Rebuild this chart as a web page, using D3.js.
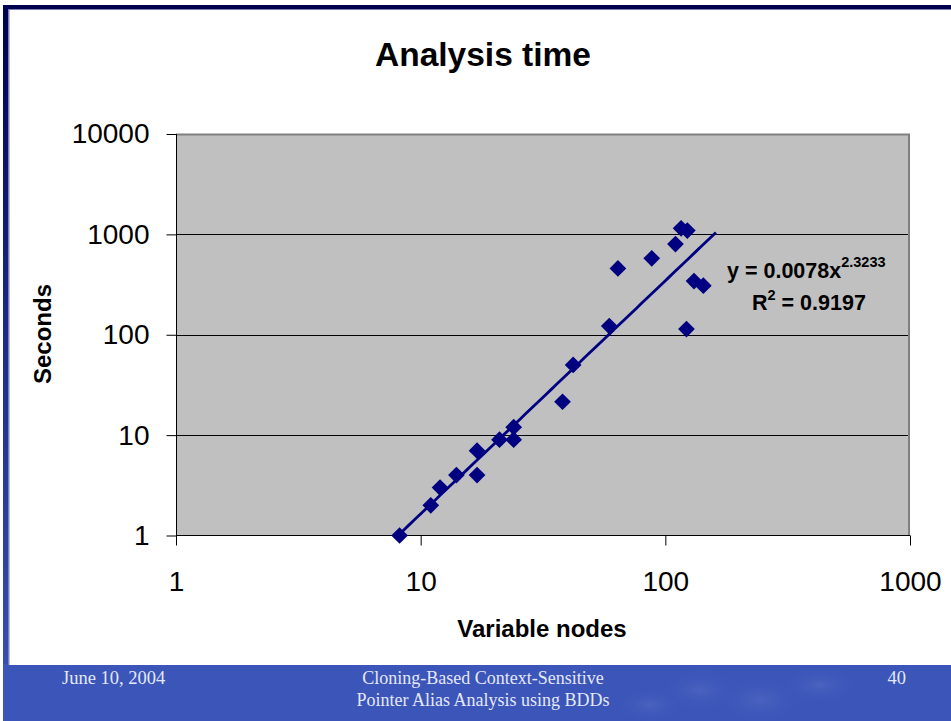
<!DOCTYPE html>
<html><head><meta charset="utf-8">
<script src="https://cdn.jsdelivr.net/npm/d3@7"></script>
<style>body{margin:0;background:#fff;}svg{display:block;}</style>
</head><body>
<svg id="chart" width="951" height="721"></svg>
<script>
// ---- data ----
const chartTitle = "Analysis time";
const xLabel = "Variable nodes";
const yLabel = "Seconds";
const variableNodes = [8.2, 11, 12, 14, 17, 17, 21, 24, 24, 38, 42, 59, 64, 88, 110, 116, 123, 131, 143, 122];
const seconds       = [1, 2, 3, 4, 4, 7, 9, 12, 9, 21.5, 50, 122, 458, 577, 800, 1150, 1090, 343, 308, 114];
const xTicks = [1, 10, 100, 1000];
const yTicks = [1, 10, 100, 1000, 10000];
const trendCoef = 0.0078, trendExp = 2.3233;
const trendRange = [8.1, 161];
const eqText = ["y = 0.0078x", "2.3233"];
const r2Text = ["R", "2", " = 0.9197"];
const footerDate = "June 10, 2004";
const footerTitle = ["Cloning-Based Context-Sensitive", "Pointer Alias Analysis using BDDs"];
const footerPage = "40";

const svg = d3.select("#chart");
const W = 951, H = 721;
const sans = "Liberation Sans, Arial, sans-serif";

// ---- slide background ----
const defs = svg.append("defs");
const lg = defs.append("linearGradient").attr("id","leftband").attr("x1",0).attr("y1",0).attr("x2",0).attr("y2",1);
lg.append("stop").attr("offset","0").attr("stop-color","#00004e");
lg.append("stop").attr("offset","0.45").attr("stop-color","#1a2a86");
lg.append("stop").attr("offset","1").attr("stop-color","#3a54b8");
svg.append("rect").attr("x",0).attr("y",0).attr("width",W).attr("height",H).attr("fill","#ffffff");
svg.append("rect").attr("x",3).attr("y",5).attr("width",W-3).attr("height",H-5).attr("fill","url(#leftband)");
svg.append("rect").attr("x",3).attr("y",5).attr("width",W-3).attr("height",5).attr("fill","#00004e");
svg.append("rect").attr("x",3).attr("y",664).attr("width",W-3).attr("height",H-664).attr("fill","#3b55b9");
// faint texture in footer
const fg = defs.append("radialGradient").attr("id","blob");
fg.append("stop").attr("offset","0").attr("stop-color","#5d75c8").attr("stop-opacity",0.45);
fg.append("stop").attr("offset","1").attr("stop-color","#3b55b9").attr("stop-opacity",0);
[[700,690,40,22],[760,700,45,25],[820,685,40,20],[650,705,35,18]].forEach(b =>
  svg.append("ellipse").attr("cx",b[0]).attr("cy",b[1]).attr("rx",b[2]).attr("ry",b[3]).attr("fill","url(#blob)"));
svg.append("rect").attr("x",8).attr("y",9).attr("width",W-8).attr("height",656).attr("fill","#7a7fb8");
svg.append("rect").attr("x",9.5).attr("y",10).attr("width",W-9.5).attr("height",655).attr("fill","#ffffff");

// ---- scales ----
const x = d3.scaleLog().domain([1, 1000]).range([176, 910]);
const y = d3.scaleLog().domain([1, 10000]).range([535.5, 134]);

// plot area
svg.append("rect").attr("x",176).attr("y",134).attr("width",910-176).attr("height",535.5-134)
  .attr("fill","#c0c0c0");
// gridlines
svg.append("g").selectAll("line").data(yTicks.filter(v => v > 1 && v < 10000)).join("line")
  .attr("x1",176).attr("x2",910).attr("y1",d=>Math.round(y(d))+0.5).attr("y2",d=>Math.round(y(d))+0.5)
  .attr("stroke","#000").attr("stroke-width",1);
// top/right border gray
svg.append("path").attr("d",`M176,134.5H909V535.5`).attr("fill","none").attr("stroke","#808080").attr("stroke-width",2);

// axes
const yAxis = d3.axisLeft(y).tickValues(yTicks).tickFormat(d3.format("d")).tickSize(10).tickPadding(17);
const gy = svg.append("g").attr("transform","translate(176.5,0)").call(yAxis);
gy.selectAll("text").attr("font-family",sans).attr("font-size",28).attr("fill","#000");
gy.selectAll("line,path").attr("stroke","#000");
gy.select(".domain").attr("d","M0,134V535.5");

const xAxis = d3.axisBottom(x).tickValues(xTicks).tickFormat(d3.format("d")).tickSize(10).tickPadding(26);
const gx = svg.append("g").attr("transform","translate(0,535.5)").call(xAxis);
gx.selectAll("text").attr("font-family",sans).attr("font-size",28).attr("fill","#000");
gx.selectAll("line,path").attr("stroke","#000");
gx.select(".domain").attr("d","M176,0H910");

// trend line
const trendPts = d3.range(0, 61).map(i => {
  const lx = Math.log10(trendRange[0]) + (Math.log10(trendRange[1]) - Math.log10(trendRange[0])) * i / 60;
  const xv = Math.pow(10, lx);
  return [xv, trendCoef * Math.pow(xv, trendExp)];
});
svg.append("path").datum(trendPts)
  .attr("d", d3.line().x(d => x(d[0])).y(d => y(d[1])))
  .attr("fill","none").attr("stroke","#000080").attr("stroke-width",2.8);

// markers
const pts = variableNodes.map((v, i) => [v, seconds[i]]);
svg.append("g").selectAll("path").data(pts).join("path")
  .attr("d", d3.symbol().type(d3.symbolSquare).size(140))
  .attr("transform", d => `translate(${x(d[0])},${y(d[1])}) rotate(45)`)
  .attr("fill","#000080");

// equation
const eq = svg.append("text").attr("x",727).attr("y",278)
  .attr("font-family",sans).attr("font-weight","bold").attr("font-size",21.5).attr("fill","#000");
eq.append("tspan").text(eqText[0]);
eq.append("tspan").attr("dy",-11).attr("font-size",14.5).text(eqText[1]);
const r2 = svg.append("text").attr("x",752).attr("y",310)
  .attr("font-family",sans).attr("font-weight","bold").attr("font-size",21.5).attr("fill","#000");
r2.append("tspan").text(r2Text[0]);
r2.append("tspan").attr("dy",-10).attr("font-size",14.5).text(r2Text[1]);
r2.append("tspan").attr("dy",10).text(r2Text[2]);

// titles
svg.append("text").attr("x",483).attr("y",66).attr("text-anchor","middle")
  .attr("font-family",sans).attr("font-weight","bold").attr("font-size",33.5).text(chartTitle);
svg.append("text").attr("x",542).attr("y",637).attr("text-anchor","middle")
  .attr("font-family",sans).attr("font-weight","bold").attr("font-size",24).text(xLabel);
svg.append("text").attr("transform","translate(51,334) rotate(-90)").attr("text-anchor","middle")
  .attr("font-family",sans).attr("font-weight","bold").attr("font-size",24).text(yLabel);

// footer
const ff = "Liberation Serif, Times New Roman, serif";
const fcol = "#e4e8f8";
svg.append("text").attr("x",62).attr("y",684).attr("font-family",ff).attr("font-size",18.5).attr("fill",fcol).text(footerDate);
svg.append("text").attr("x",483).attr("y",684).attr("text-anchor","middle").attr("font-family",ff).attr("font-size",18).attr("fill",fcol).text(footerTitle[0]);
svg.append("text").attr("x",483).attr("y",706).attr("text-anchor","middle").attr("font-family",ff).attr("font-size",18).attr("fill",fcol).text(footerTitle[1]);
svg.append("text").attr("x",906).attr("y",684).attr("text-anchor","end").attr("font-family",ff).attr("font-size",18.5).attr("fill",fcol).text(footerPage);
</script>
</body></html>
